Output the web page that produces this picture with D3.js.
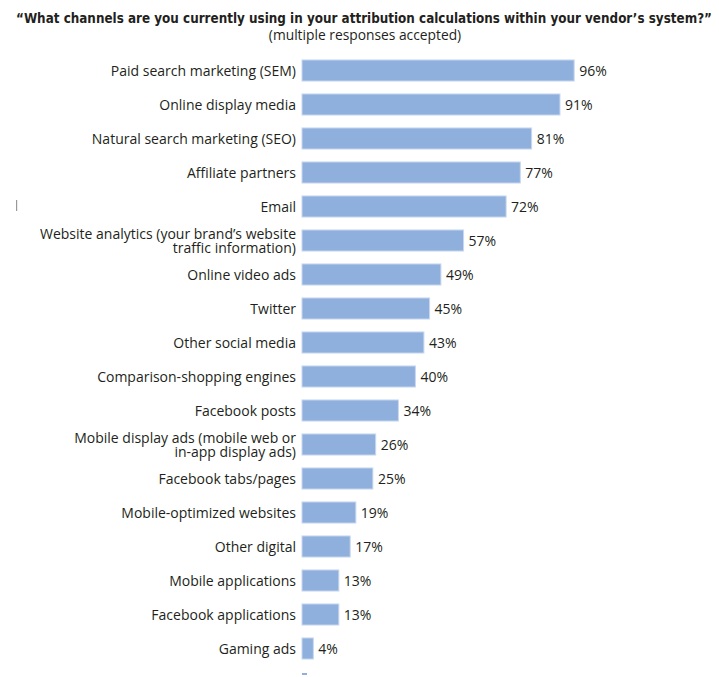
<!DOCTYPE html>
<html><head><meta charset="utf-8">
<script src="https://cdn.jsdelivr.net/npm/d3@7"></script>
<style>body{margin:0;background:#fff}svg{display:block}</style>
</head><body>
<script>
const categories = [
  ["Paid search marketing (SEM)"],
  ["Online display media"],
  ["Natural search marketing (SEO)"],
  ["Affiliate partners"],
  ["Email"],
  ["Website analytics (your brand’s website", "traffic information)"],
  ["Online video ads"],
  ["Twitter"],
  ["Other social media"],
  ["Comparison-shopping engines"],
  ["Facebook posts"],
  ["Mobile display ads (mobile web or", "in-app display ads)"],
  ["Facebook tabs/pages"],
  ["Mobile-optimized websites"],
  ["Other digital"],
  ["Mobile applications"],
  ["Facebook applications"],
  ["Gaming ads"]
];
const values = [96, 91, 81, 77, 72, 57, 49, 45, 43, 40, 34, 26, 25, 19, 17, 13, 13, 4];
const titleText = "“What channels are you currently using in your attribution calculations within your vendor’s system?”";
const subtitleText = "(multiple responses accepted)";

const W = 719, H = 677;
const svg = d3.select("body").append("svg").attr("width", W).attr("height", H);
const font = "'Open Sans', sans-serif";

svg.append("text").attr("x", 364).attr("y", 23).attr("text-anchor", "middle")
  .attr("font-family", "'DejaVu Sans Condensed','DejaVu Sans',sans-serif").attr("font-weight", "bold")
  .attr("font-size", 14.5).attr("fill", "#231f20")
  .attr("textLength", 696).attr("lengthAdjust", "spacingAndGlyphs").text(titleText);
svg.append("text").attr("x", 365).attr("y", 39.5).attr("text-anchor", "middle")
  .attr("font-family", font).attr("font-size", 13.8).attr("fill", "#231f20").text(subtitleText);

const x = d3.scaleLinear().domain([0, 100]).range([302, 302 + 283.5]);
const y = d3.scaleBand().domain(d3.range(categories.length)).range([53.5, 53.5 + 34 * categories.length]).paddingInner(0.38).paddingOuter(0.19);

const g = svg.append("g");
const rows = g.selectAll("g.row").data(values).join("g").attr("class", "row");
rows.append("rect")
  .attr("x", x(0)).attr("y", (d, i) => y(i))
  .attr("width", d => x(d) - x(0)).attr("height", y.bandwidth())
  .attr("fill", "#8fafdc").attr("stroke", "#c9d8ef").attr("stroke-width", 1);
rows.append("text")
  .attr("x", d => x(d) + 5).attr("y", (d, i) => y(i) + y.bandwidth() / 2 + 5)
  .attr("font-family", font).attr("font-size", 14).attr("fill", "#231f20")
  .text(d => d + "%");
rows.each(function(d, i) {
  const lines = categories[i];
  const cy = y(i) + y.bandwidth() / 2;
  const t = d3.select(this).append("text").attr("text-anchor", "end")
    .attr("font-family", font).attr("font-size", 14).attr("fill", "#231f20");
  lines.forEach((ln, k) => {
    t.append("tspan").attr("x", 296)
      .attr("y", cy + 5 + (k - (lines.length - 1) / 2) * 14).text(ln);
  });
});

// small artifacts in the original image
svg.append("rect").attr("x", 16).attr("y", 200).attr("width", 1.2).attr("height", 11).attr("fill", "#999");
svg.append("rect").attr("x", 302).attr("y", 673).attr("width", 5).attr("height", 2).attr("fill", "#8fafdc");
</script>
</body></html>
